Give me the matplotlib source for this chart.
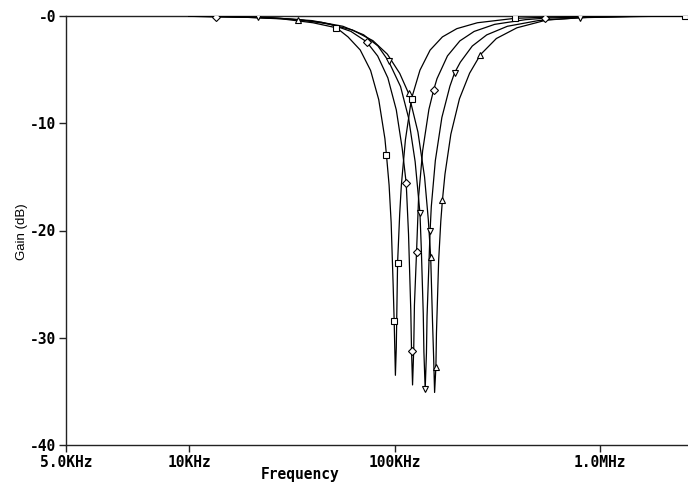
import matplotlib
matplotlib.use("Agg")
import matplotlib.pyplot as plt

# frequency in kHz, gain in dB
sq_f = [10, 17.9, 28.4, 40.1, 52.2, 59.4, 68.1, 76.5, 83.8, 89.8, 91.4, 94.1, 96.3, 98.5, 99.6, 101, 102,
        103.5, 106, 108, 113, 121, 133, 149, 171, 201, 253, 384, 567, 1010, 2600, 2700]
sq_db = [-0.03, -0.10, -0.27, -0.63, -1.10, -1.95, -3.17, -5.08, -7.80, -11.44, -13.0, -15.76, -19.25, -25.14,
         -28.4, -33.5, -30.94, -23.0, -18.42, -15.73, -11.54, -7.7, -5.05, -3.18, -1.95, -1.18, -0.63, -0.22,
         -0.10, -0.03, -0.01, -0.01]
sq_mk_f = [52.2, 91.4, 99.6, 103.5, 121, 384, 2600]
sq_mk_db = [-1.10, -13.0, -28.4, -23.0, -7.7, -0.22, -0.01]

dm_f = [10, 13.5, 21.8, 34.5, 48.7, 61.3, 73.1, 82.8, 92.8, 102, 109, 114, 117, 120, 121, 122.4, 124, 125,
        128, 131, 137, 147, 155, 161, 181, 208, 244, 307, 434, 537, 688, 1220, 2700]
dm_db = [-0.03, -0.05, -0.13, -0.34, -0.77, -1.43, -2.4, -3.73, -5.77, -8.75, -12.35, -15.6, -20.34, -27.46,
         -31.2, -34.4, -31.12, -26.95, -22.0, -16.84, -12.58, -8.71, -6.9, -5.84, -3.72, -2.32, -1.44, -0.78,
         -0.34, -0.21, -0.13, -0.04, -0.01]
dm_mk_f = [13.5, 73.1, 114, 121, 128, 155, 537]
dm_mk_db = [-0.05, -2.4, -15.6, -31.2, -22.0, -6.9, -0.21]

dt_f = [10, 14.1, 21.6, 25.1, 39.7, 56.1, 70.7, 83, 93.5, 107, 117, 126, 133, 135, 138, 139, 141, 143, 144,
        149, 151, 158, 170, 186, 196, 209, 239, 281, 354, 500, 803, 1410, 2700]
dt_db = [-0.02, -0.05, -0.12, -0.16, -0.43, -0.96, -1.75, -2.79, -4.2, -6.58, -9.48, -13.58, -18.4, -21.68,
         -27.78, -31.33, -34.8, -31.45, -27.96, -20.0, -17.77, -13.48, -9.46, -6.55, -5.3, -4.31, -2.80, -1.76,
         -0.96, -0.43, -0.16, -0.05, -0.01]
dt_mk_f = [21.6, 93.5, 133, 141, 149, 196, 803]
dt_mk_db = [-0.12, -4.2, -18.4, -34.8, -20.0, -5.3, -0.16]

ut_f = [10, 15.7, 27.9, 34.1, 44.2, 62.4, 78.5, 92.3, 106, 117, 130, 140, 146, 150, 153, 155, 156.7, 159,
        160, 164, 168, 171, 176, 188, 207, 232, 262, 313, 394, 556, 881, 1570, 2700]
ut_db = [-0.03, -0.07, -0.22, -0.37, -0.59, -1.30, -2.30, -3.56, -5.35, -7.2, -10.82, -15.00, -18.97, -22.5,
         -28.36, -31.8, -35.1, -32.7, -29.54, -22.77, -19.11, -17.2, -14.75, -11.02, -7.72, -5.33, -3.6, -2.1,
         -1.1, -0.35, -0.12, -0.04, -0.01]
ut_mk_f = [34.1, 117, 150, 159, 171, 262]
ut_mk_db = [-0.37, -7.2, -22.5, -32.7, -17.2, -3.6]

x_ticks = [2.52, 10, 100, 1000]
x_labels = ["5.0KHz", "10KHz", "100KHz", "1.0MHz"]
y_ticks = [0, -10, -20, -30, -40]
y_labels = ["-0", "-10", "-20", "-30", "-40"]

fig = plt.figure(figsize=(6.88, 4.87), dpi=100)
ax = fig.add_axes([66 / 688, 1 - 445 / 487, 1 - 66 / 688, (445 - 16) / 487])

curves = [(sq_f, sq_db, sq_mk_f, sq_mk_db, "s", 5.0),
          (dm_f, dm_db, dm_mk_f, dm_mk_db, "D", 3.8),
          (dt_f, dt_db, dt_mk_f, dt_mk_db, "v", 5.0),
          (ut_f, ut_db, ut_mk_f, ut_mk_db, "^", 5.0)]
for f, g, mf, mg, m, ms in curves:
    ax.plot(f, g, color="black", lw=0.9, zorder=3)
    ax.plot(mf, mg, ls="none", marker=m, ms=ms, mfc="white", mec="black", mew=0.8, zorder=4)

ax.set_xscale("log")
ax.set_xlim(2.52, 2680)
ax.set_ylim(-40, 0)
ax.set_xticks(x_ticks)
ax.set_xticklabels(x_labels)
ax.minorticks_off()
ax.set_yticks(y_ticks)
ax.set_yticklabels(y_labels)

mono = {"family": "DejaVu Sans Mono", "weight": "bold", "size": 10.5}
for lab in ax.get_xticklabels() + ax.get_yticklabels():
    lab.set_fontfamily("DejaVu Sans Mono")
    lab.set_fontweight("bold")
    lab.set_fontsize(10.5)
ax.tick_params(axis="both", direction="out", length=5, width=1, color="#222222", pad=2)
for side in ["left", "bottom", "top"]:
    ax.spines[side].set_color("#222222")
    ax.spines[side].set_linewidth(1.0)
ax.spines["right"].set_visible(False)

fig.text(300 / 688, 1 - 474 / 487, "Frequency", ha="center", va="center", **mono)
fig.text(22 / 688, 1 - 232 / 487, "Gain (dB)", ha="center", va="center", rotation=90,
         family="Liberation Sans", fontsize=9.5)

fig.savefig("out.png", dpi=100)
